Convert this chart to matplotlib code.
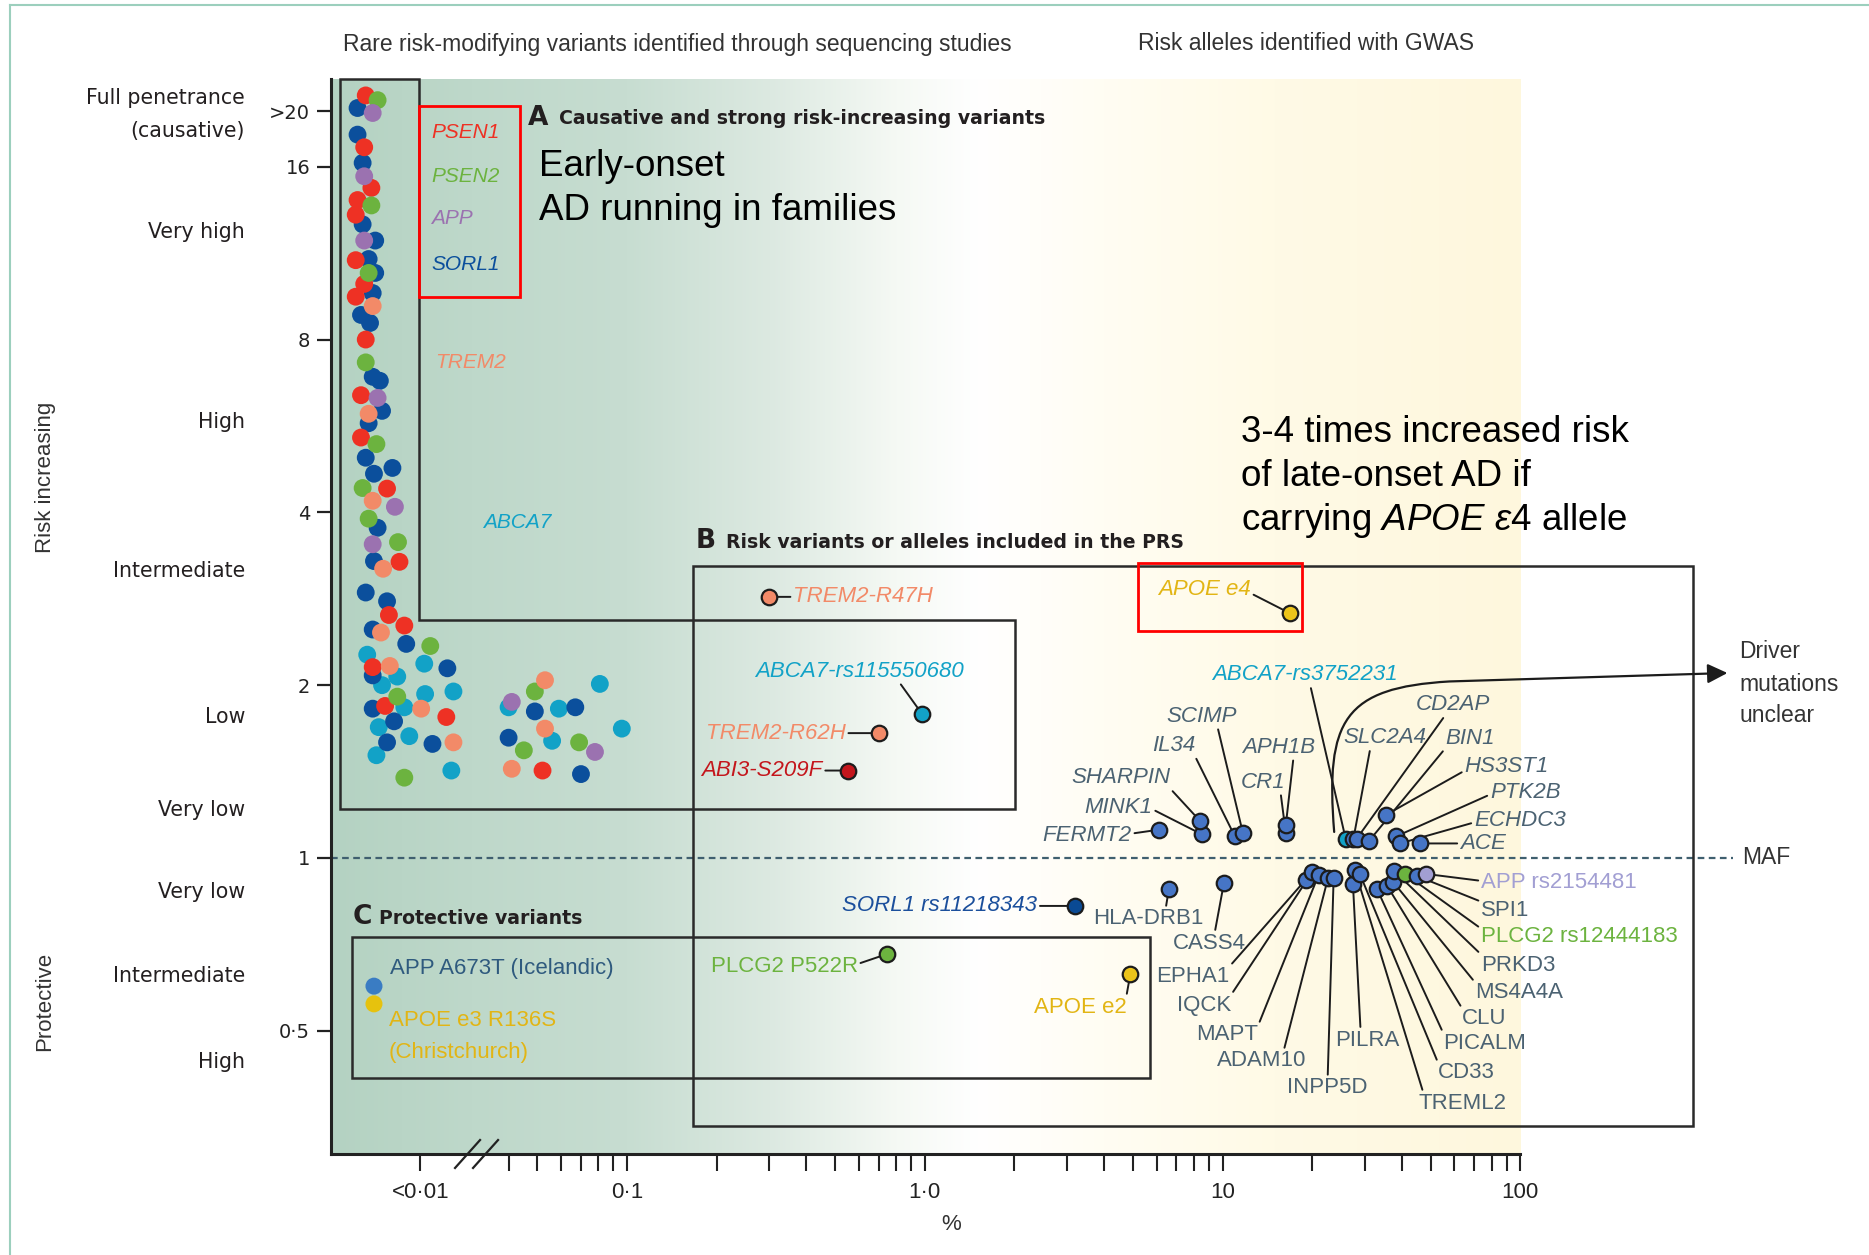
import numpy as np
import matplotlib.pyplot as plt
import matplotlib.transforms as mtransforms
from matplotlib.lines import Line2D
from matplotlib.patches import Polygon, FancyArrowPatch
from matplotlib.path import Path
from matplotlib.colors import to_rgb

plt.rcParams['font.family'] = ['Liberation Sans', 'DejaVu Sans']
plt.rcParams['mathtext.fontset'] = 'custom'
plt.rcParams['mathtext.rm'] = 'Liberation Sans'
plt.rcParams['mathtext.it'] = 'Liberation Sans:italic'

# ---------------------------------------------------------------------------
# rare variants from sequencing studies: MAF (%) and odds ratio
psen1_maf = [0.0031, 0.0030, 0.0035, 0.0026, 0.0025, 0.0025, 0.0030, 0.0025, 0.0031, 0.0028,
             0.0028, 0.0049, 0.0064, 0.0051, 0.0071, 0.0036, 0.0047, 0.0175, 0.052]
psen1_or = [21.3, 17.3, 14.7, 14.0, 13.2, 11.0, 10.0, 9.5, 8.0, 6.4,
            5.4, 4.4, 3.28, 2.65, 2.54, 2.15, 1.84, 1.76, 1.42]

psen2_maf = [0.0040, 0.0035, 0.0033, 0.0031, 0.0039, 0.0029, 0.0033, 0.0062, 0.0124, 0.0061,
             0.0071, 0.049, 0.045, 0.069]
psen2_or = [20.9, 13.7, 10.45, 7.3, 5.26, 4.41, 3.90, 3.55, 2.34, 1.91,
            1.38, 1.95, 1.54, 1.59]

app_maf = [0.0036, 0.0030, 0.0030, 0.0040, 0.0058, 0.0036, 0.041, 0.078]
app_or = [19.85, 15.4, 11.9, 6.33, 4.09, 3.52, 1.87, 1.53]

sorl1_maf = [0.0026, 0.0026, 0.0029, 0.0029, 0.0038, 0.0033, 0.0038, 0.0036, 0.0028, 0.0034,
             0.0036, 0.0042, 0.0044, 0.0033, 0.0031, 0.0055, 0.0037, 0.0040, 0.0037, 0.0031,
             0.0049, 0.0036, 0.0074, 0.0179, 0.0036, 0.0036, 0.0057, 0.0049, 0.0130, 0.049,
             0.067, 0.040, 0.070]
sorl1_or = [20.25, 18.2, 16.25, 12.7, 11.9, 11.05, 10.45, 9.64, 8.83, 8.55,
            6.89, 6.78, 6.01, 5.72, 4.98, 4.78, 4.67, 3.76, 3.29, 2.90,
            2.80, 2.50, 2.36, 2.14, 2.08, 1.82, 1.73, 1.59, 1.58, 1.80,
            1.83, 1.62, 1.40]

trem2_maf = [0.0036, 0.0033, 0.0036, 0.0045, 0.0043, 0.0052, 0.0102, 0.0204, 0.053, 0.053, 0.041]
trem2_or = [9.15, 5.94, 4.19, 3.19, 2.47, 2.16, 1.82, 1.59, 2.04, 1.68, 1.43]

abca7_maf = [0.0032, 0.0109, 0.0061, 0.0044, 0.0111, 0.0204, 0.0071, 0.0041, 0.0079, 0.0039,
             0.0195, 0.040, 0.059, 0.081, 0.056, 0.096]
abca7_or = [2.26, 2.18, 2.07, 2.00, 1.93, 1.95, 1.83, 1.69, 1.63, 1.51,
            1.42, 1.83, 1.82, 2.01, 1.60, 1.68]

# named rare risk variants in the PRS box
prs_rare_names = ['TREM2-R47H', 'ABCA7-rs115550680', 'TREM2-R62H', 'ABI3-S209F', 'APOE e4']
prs_rare_maf = [0.30, 0.98, 0.70, 0.55, 16.8]
prs_rare_or = [2.85, 1.78, 1.65, 1.42, 2.67]

# protective variants
prot_names = ['SORL1 rs11218343', 'HLA-DRB1', 'CASS4', 'APOE e2', 'PLCG2 P522R',
              'APP A673T (Icelandic)', 'APOE e3 R136S']
prot_maf = [3.2, 6.6, 10.1, 4.9, 0.745, 0.0037, 0.0037]
prot_or = [0.825, 0.883, 0.904, 0.628, 0.68, 0.598, 0.557]

# GWAS loci, risk side
up_names = ['FERMT2', 'MINK1', 'SHARPIN', 'IL34', 'SCIMP', 'CR1', 'APH1B', 'ABCA7-rs3752231',
            'SLC2A4', 'CD2AP', 'BIN1', 'HS3ST1', 'PTK2B', 'ECHDC3', 'ACE']
up_maf = [6.1, 8.5, 8.4, 11.0, 11.7, 16.3, 16.3, 25.9, 27.5, 28.2, 31.0, 35.5, 38.2, 39.4, 46.0]
up_or = [1.12, 1.10, 1.16, 1.09, 1.105, 1.105, 1.14, 1.08, 1.08, 1.08, 1.07, 1.19, 1.09, 1.06, 1.06]

# GWAS loci, protective side
down_names = ['EPHA1', 'IQCK', 'MAPT', 'ADAM10', 'INPP5D', 'PILRA', 'TREML2', 'CD33', 'PICALM',
              'CLU', 'MS4A4A', 'PRKD3', 'PLCG2 rs12444183', 'SPI1', 'APP rs2154481']
down_maf = [19.0, 20.0, 21.0, 22.6, 23.6, 27.4, 27.8, 28.9, 33.0, 35.7, 37.4, 37.7, 41.0, 45.0, 48.2]
down_or = [0.916, 0.945, 0.934, 0.923, 0.923, 0.90, 0.953, 0.938, 0.883, 0.894, 0.908, 0.949,
           0.938, 0.93, 0.938]

y_ticks = [0.5, 1, 2, 4, 8, 16, 20]
y_ticklabels = ['0·5', '1', '2', '4', '8', '16', '>20']
x_ticks = [0.01, 0.1, 1, 10, 100]
x_ticklabels = ['<0·01', '0·1', '1·0', '10', '100']
x_minor = [0.04, 0.05, 0.06, 0.07, 0.08, 0.09, 0.2, 0.3, 0.4, 0.5, 0.6, 0.7, 0.8, 0.9,
           2, 3, 4, 5, 6, 7, 8, 9, 20, 30, 40, 50, 60, 70, 80, 90]

band_labels = ['Full penetrance', '(causative)', 'Very high', 'High', 'Intermediate', 'Low',
               'Very low', 'Very low', 'Intermediate', 'High']
band_or = [21.1, 18.5, 12.3, 5.75, 3.16, 1.76, 1.21, 0.874, 0.623, 0.441]

# ---------------------------------------------------------------------------
RED, GREEN, PURPLE, BLUE = '#ee3124', '#6cb33f', '#9b72b0', '#0b4f9c'
SALMON, CYAN, GOLD, GOLDTXT = '#f28a68', '#12a2c7', '#ecc41a', '#e2b514'
GWAS_FILL, SLATE, LAVENDER = '#4675c6', '#4b6272', '#a29fd3'
INK = '#1c1c1c'

BREAK = 0.03
SQUEEZE = 0.36


def fwd(x):
    lx = np.log10(np.clip(np.asarray(x, dtype=float), 1e-9, None))
    lb = np.log10(BREAK)
    return np.where(lx < lb, lb + SQUEEZE * (lx - lb), lx)


def inv(u):
    u = np.asarray(u, dtype=float)
    lb = np.log10(BREAK)
    return np.where(u < lb, 10 ** (lb + (u - lb) / SQUEEZE), 10 ** u)


W, H = 1869, 1255
fig = plt.figure(figsize=(W / 100, H / 100), dpi=100)
L, R, T, B = 331, 1760, 79, 1154
ax = fig.add_axes([L / W, 1 - B / H, (R - L) / W, (B - T) / H])
ax.set_xscale('function', functions=(fwd, inv))
ax.set_yscale('log', base=2)
XMIN, XMAX = 0.00147, 638
ax.set_xlim(XMIN, XMAX)
ax.set_ylim(0.305, 22.75)

# green -> white -> yellow background up to 100 %
grad_maf = [XMIN, 0.03, 0.1, 0.3, 0.8, 1.5, 4, 15, 100]
grad_col = ['#b4d2c2', '#bed8ca', '#c7ddd1', '#dce9e1', '#f5f9f4', '#ffffff', '#fffdf3',
            '#fffae6', '#fef7dd']
f100 = ax.transAxes.inverted().transform(ax.transData.transform((100, 1)))[0]
bg = fig.add_axes([L / W, 1 - B / H, (R - L) / W * f100, (B - T) / H], zorder=0)
u_cols = np.linspace(float(fwd(XMIN)), float(fwd(100)), 900)
stop_u = fwd(grad_maf)
rgb = np.array([to_rgb(c) for c in grad_col])
img = np.stack([np.interp(u_cols, stop_u, rgb[:, k]) for k in range(3)], axis=-1)[None, :, :]
bg.imshow(img, aspect='auto', extent=(0, 1, 0, 1))
bg.axis('off')
ax.set_zorder(1)
ax.patch.set_visible(False)

# axes
for s in ['top', 'right']:
    ax.spines[s].set_visible(False)
ax.spines['left'].set_linewidth(2.2)
ax.spines['bottom'].set_linewidth(2.2)
ax.spines['left'].set_color('#222222')
ax.spines['bottom'].set_color('#222222')
ax.spines['bottom'].set_bounds(XMIN, 100)
ax.set_yticks(y_ticks, labels=y_ticklabels, family='DejaVu Sans', fontsize=14)
ax.yaxis.set_minor_locator(plt.NullLocator())
ax.tick_params(axis='y', length=10, width=1.6, pad=5, colors='#222222')
ax.set_xticks(x_ticks, labels=x_ticklabels, fontsize=16)
ax.set_xticks(x_minor, minor=True)
ax.tick_params(axis='x', which='both', length=12, width=1.5, pad=8, colors='#222222')

# axis break marks
for x0 in (0.0868, 0.0994):
    ax.plot([x0, x0 + 0.0175], [-0.013, 0.013], transform=ax.transAxes, color='#222222',
            lw=1.6, clip_on=False, zorder=6)

# MAF = 1 reference line
ax.plot([XMIN, 519], [1, 1], ls=(0, (3, 2)), color='#3f5f6f', lw=1.6, zorder=2)
ax.text(556, 1, 'MAF', va='center', ha='left', fontsize=16.5, color='#333333')

# boxes A, B, C and the highlight boxes
box_kw = dict(closed=True, fill=False, ec='#2a2a2a', lw=1.8, clip_on=False, zorder=2)
ax.add_patch(Polygon([(0.0018, 22.75), (0.0098, 22.75), (0.0098, 2.60), (2.01, 2.60),
                      (2.01, 1.217), (0.0018, 1.217)], **box_kw))
ax.add_patch(Polygon([(0.167, 0.341), (381, 0.341), (381, 3.23), (0.167, 3.23)], **box_kw))
ax.add_patch(Polygon([(0.00233, 0.414), (5.72, 0.414), (5.72, 0.728), (0.00233, 0.728)], **box_kw))
red_kw = dict(closed=True, fill=False, ec='#ff0000', lw=2.0, clip_on=False, zorder=2)
ax.add_patch(Polygon([(0.0098, 9.49), (0.0436, 9.49), (0.0436, 20.4), (0.0098, 20.4)], **red_kw))
ax.add_patch(Polygon([(5.18, 2.49), (18.5, 2.49), (18.5, 3.27), (5.18, 3.27)], **red_kw))

# rare variant clouds
cloud = [(abca7_maf, abca7_or, CYAN), (sorl1_maf, sorl1_or, BLUE), (psen1_maf, psen1_or, RED),
         (psen2_maf, psen2_or, GREEN), (app_maf, app_or, PURPLE), (trem2_maf, trem2_or, SALMON)]
for mx, oy, col in cloud:
    ax.scatter(mx, oy, s=165, color=col, edgecolors='none', zorder=4)


def tag(name, x, y, color, dx, dy, ha, rel=None, style='italic', size=15.5):
    arrow = None
    if rel is not None:
        arrow = dict(arrowstyle='-', color=INK, lw=1.4, relpos=rel, shrinkA=0, shrinkB=0)
    ax.annotate(name, (x, y), xytext=(dx, dy), textcoords='offset points', ha=ha, va='center',
                color=color, fontsize=size, fontstyle=style, arrowprops=arrow, zorder=3)


def dot(x, y, fill):
    ax.scatter(x, y, s=125, color=fill, edgecolors=INK, linewidths=1.6, zorder=5)


# PRS box: rare variants
prs_rare_style = {
    'TREM2-R47H': (SALMON, SALMON, 17.3, 0, 'left', (0, 0.5)),
    'ABCA7-rs115550680': (CYAN, CYAN, -45.4, 31, 'center', (0.69, 0)),
    'TREM2-R62H': (SALMON, SALMON, -23.8, 0, 'right', (1, 0.5)),
    'ABI3-S209F': ('#c4161c', '#c4161c', -18, 0, 'right', (1, 0.5)),
    'APOE e4': (GOLD, GOLDTXT, -28, 17.3, 'right', (1, 0.3)),
}
for name, x, y in zip(prs_rare_names, prs_rare_maf, prs_rare_or):
    fill, tc, dx, dy, ha, rel = prs_rare_style[name]
    tag(name, x, y, tc, dx, dy, ha, rel, size=16)
    dot(x, y, fill)

# protective variants
prot_style = {
    'SORL1 rs11218343': ('#0a4a94', '#1b4f9c', -27.4, 0, 'right', (1, 0.5), 'italic'),
    'HLA-DRB1': (GWAS_FILL, SLATE, -15, -21.6, 'center', (0.66, 1), 'normal'),
    'CASS4': (GWAS_FILL, SLATE, -10.8, -43.2, 'center', (0.58, 1), 'normal'),
    'APOE e2': (GOLD, GOLDTXT, -2.9, -23.8, 'right', (1, 1), 'normal'),
    'PLCG2 P522R': (GREEN, GREEN, -20.9, -8.6, 'right', (1, 0.6), 'normal'),
}
for name, x, y in zip(prot_names, prot_maf, prot_or):
    if name in prot_style:
        fill, tc, dx, dy, ha, rel, st = prot_style[name]
        tag(name, x, y, tc, dx, dy, ha, rel, style=st, size=16)
        dot(x, y, fill)
    elif name.startswith('APP'):
        tag(name, x, y, '#2f5a7e', 11.5, 13, 'left', style='normal', size=16)
        ax.scatter(x, y, s=150, color='#3a7cc3', edgecolors='none', zorder=5)
    else:
        tag(name, x, y, GOLDTXT, 10.8, -12, 'left', style='normal', size=16)
        tag('(Christchurch)', x, y, GOLDTXT, 10.8, -35, 'left', style='normal', size=16)
        ax.scatter(x, y, s=150, color='#e6c20e', edgecolors='none', zorder=5)

# GWAS loci above MAF line
up_style = {
    'FERMT2': (-19.4, -4.3, 'right', (1, 0.6)),
    'MINK1': (-35.3, 19.4, 'right', (1, 0.4)),
    'SHARPIN': (-21.6, 31, 'right', (1, 0)),
    'IL34': (-28.8, 65.5, 'right', (1, 0)),
    'SCIMP': (-29.5, 84.2, 'center', (0.72, 0)),
    'CR1': (-16.6, 36.7, 'center', (0.9, 0)),
    'APH1B': (-5, 56.2, 'center', (0.7, 0)),
    'ABCA7-rs3752231': (-29.5, 118, 'center', (0.53, 0)),
    'SLC2A4': (22.3, 72.7, 'center', (0.33, 0)),
    'CD2AP': (69.1, 96.5, 'center', (0.4, 0)),
    'BIN1': (72.7, 74.2, 'center', (0, 0)),
    'HS3ST1': (56.2, 34.6, 'left', (0, 0.3)),
    'PTK2B': (67.7, 31.7, 'left', (0, 0.4)),
    'ECHDC3': (53.3, 16.6, 'left', (0, 0.4)),
    'ACE': (28.8, 0, 'left', (0, 0.5)),
}
for name, x, y in zip(up_names, up_maf, up_or):
    dx, dy, ha, rel = up_style[name]
    cyan = name.startswith('ABCA7')
    tag(name, x, y, CYAN if cyan else SLATE, dx, dy, ha, rel, size=16)
for name, x, y in zip(up_names, up_maf, up_or):
    dot(x, y, CYAN if name.startswith('ABCA7') else GWAS_FILL)

# GWAS loci below MAF line
down_style = {
    'EPHA1': (-54.7, -69.8, 'right', (1, 1)),
    'IQCK': (-58.3, -95.8, 'right', (1, 1)),
    'MAPT': (-43.2, -115.2, 'right', (1, 1)),
    'ADAM10': (-15.8, -131.8, 'right', (0.75, 1)),
    'INPP5D': (-4.3, -151.2, 'center', (0.5, 1)),
    'PILRA': (10.1, -112.3, 'center', (0.4, 1)),
    'TREML2': (46.1, -167.8, 'left', (0.05, 1)),
    'CD33': (56.2, -143.3, 'left', (0, 1)),
    'PICALM': (47.5, -110.9, 'left', (0, 1)),
    'CLU': (54, -95.8, 'left', (0, 1)),
    'MS4A4A': (59, -79.9, 'left', (0, 1)),
    'PRKD3': (62.6, -67.7, 'left', (0, 1)),
    'PLCG2 rs12444183': (54.7, -45.4, 'left', (0, 0.9)),
    'SPI1': (46.1, -24.5, 'left', (0, 0.9)),
    'APP rs2154481': (39.6, -6.5, 'left', (0, 0.6)),
}
down_fill = {'PLCG2 rs12444183': GREEN, 'APP rs2154481': LAVENDER}
for name, x, y in zip(down_names, down_maf, down_or):
    dx, dy, ha, rel = down_style[name]
    tag(name, x, y, down_fill.get(name, SLATE), dx, dy, ha, rel, style='normal', size=16)
for name, x, y in zip(down_names, down_maf, down_or):
    dot(x, y, down_fill.get(name, GWAS_FILL))

# curved arrow to "driver mutations unclear"
driver_path = Path([(23.7, 1.11), (22.1, 1.74), (25.6, 1.98), (57.8, 2.03), (496, 2.10)],
                   [Path.MOVETO, Path.CURVE4, Path.CURVE4, Path.CURVE4, Path.LINETO])
ax.add_patch(FancyArrowPatch(path=driver_path, arrowstyle='-|>,head_length=0.55,head_width=0.27',
                             mutation_scale=22, color=INK, lw=1.6, zorder=3, clip_on=False))


def ftext(px, py, s, **kw):
    fig.text(px / W, 1 - py / H, s, **kw)


# gene labels of the family variants
for s, py, col in [('PSEN1', 132, RED), ('PSEN2', 176, GREEN), ('APP', 219, PURPLE),
                   ('SORL1', 264, BLUE)]:
    ftext(431, py, s, color=col, fontsize=15, fontstyle='italic', va='center')
ftext(435, 363, 'TREM2', color=SALMON, fontsize=15, fontstyle='italic', va='center')
ftext(483, 523, 'ABCA7', color=CYAN, fontsize=15, fontstyle='italic', va='center')

# box headings
head = dict(family='DejaVu Sans', fontweight='bold', color='#231f20', va='center')
ftext(528, 118, 'A', fontsize=19, **head)
ftext(559, 119, 'Causative and strong risk-increasing variants', fontsize=13.6, **head)
ftext(696, 541, 'B', fontsize=19, **head)
ftext(726, 542, 'Risk variants or alleles included in the PRS', fontsize=13.6, **head)
ftext(353, 917, 'C', fontsize=19, **head)
ftext(379, 918, 'Protective variants', fontsize=13.6, **head)

# call-out texts
big = dict(fontsize=26.5, color='black', va='center')
ftext(539, 166, 'Early-onset', **big)
ftext(539, 211, 'AD running in families', **big)
ftext(1241, 433, '3-4 times increased risk', **big)
ftext(1241, 477, 'of late-onset AD if', **big)
ftext(1241, 521, r'carrying $\mathit{APOE\ ε4}$ allele', **big)

for py, s in [(652, 'Driver'), (684, 'mutations'), (716, 'unclear')]:
    ftext(1739, py, s, fontsize=16.5, color='#333333', va='center')

# headers above the panel
ftext(677, 44, 'Rare risk-modifying variants identified through sequencing studies',
      fontsize=16.5, color='#333333', ha='center', va='center')
ftext(1306, 44, 'Risk alleles identified with GWAS', fontsize=16.5, color='#333333',
      ha='center', va='center')

# effect-size bands on the left
band_trans = mtransforms.blended_transform_factory(fig.transFigure, ax.transData)
for lab, y in zip(band_labels, band_or):
    ax.text(245 / W, y, lab, transform=band_trans, ha='right', va='center',
            family='DejaVu Sans', fontsize=14.8, color='#231f20')

ftext(45, 477, 'Risk increasing', rotation=90, fontsize=16, color='#333333',
      ha='center', va='center')
ftext(45, 1001, 'Protective', rotation=90, fontsize=16, color='#333333',
      ha='center', va='center')
ftext(951, 1225, '%', fontsize=16, color='#333333', ha='center', va='center')

# thin frame on the left and top edge
fig.add_artist(Line2D([10 / W, 10 / W], [0, 1 - 5 / H], transform=fig.transFigure,
                      color='#9ccfbd', lw=1.5))
fig.add_artist(Line2D([10 / W, 1], [1 - 5 / H, 1 - 5 / H], transform=fig.transFigure,
                      color='#9ccfbd', lw=1.5))

fig.savefig('out.png', dpi=100)
